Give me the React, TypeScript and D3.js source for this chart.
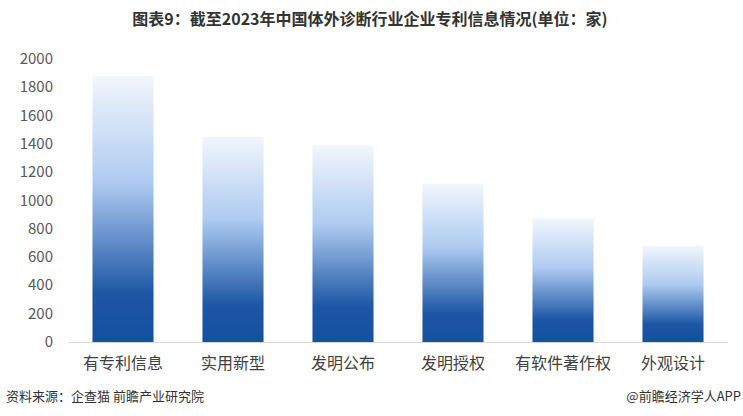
import React from "react";
import * as d3 from "d3";

const categories = ["有专利信息", "实用新型", "发明公布", "发明授权", "有软件著作权", "外观设计"];
const values = [1880, 1450, 1390, 1120, 875, 680];
const yTicks = [0, 200, 400, 600, 800, 1000, 1200, 1400, 1600, 1800, 2000];

const W = 743, H = 416;
const M = { left: 68, right: 728, top: 59, bottom: 342 };

export default function App() {
  const x = d3.scaleBand<string>().domain(categories).range([M.left, M.right]).paddingInner(0.445).paddingOuter(0.2225);
  const y = d3.scaleLinear().domain([0, 2000]).range([M.bottom, M.top]);
  const font = "'Microsoft YaHei','Noto Sans CJK SC',sans-serif";
  return (
    <svg width={W} height={H} style={{ position: "absolute", left: 0, top: 0, background: "#fff" }}>
      <defs>
        <linearGradient id="g" x1="0" y1="0" x2="0" y2="1">
          <stop offset="0" stopColor="#f2f6fc" />
          <stop offset="0.4" stopColor="#aecbf1" />
          <stop offset="0.82" stopColor="#1c56a4" />
          <stop offset="1" stopColor="#15509f" />
        </linearGradient>
      </defs>
      <text x={370} y={25} textAnchor="middle" fontFamily={font} fontWeight="bold" fontSize={16} fill="#333">
        图表9：截至2023年中国体外诊断行业企业专利信息情况(单位：家)
      </text>
      {yTicks.map((t) => (
        <text key={t} x={53} y={y(t) + 5} textAnchor="end" fontFamily={font} fontSize={15} fill="#595959">
          {t}
        </text>
      ))}
      <line x1={M.left} x2={M.right} y1={M.bottom + 0.5} y2={M.bottom + 0.5} stroke="#d9d9d9" strokeWidth={1} />
      {categories.map((c, i) => (
        <rect key={c} x={x(c)} y={y(values[i])} width={x.bandwidth()} height={M.bottom - y(values[i])} fill="url(#g)" />
      ))}
      {categories.map((c) => (
        <text key={c} x={(x(c) as number) + x.bandwidth() / 2} y={369} textAnchor="middle" fontFamily={font} fontSize={16} fill="#404040">
          {c}
        </text>
      ))}
      <text x={6} y={401} fontFamily={font} fontSize={13} fill="#333">资料来源：企查猫 前瞻产业研究院</text>
      <text x={741} y={401} textAnchor="end" fontFamily={font} fontSize={13} fill="#333">@前瞻经济学人APP</text>
    </svg>
  );
}
